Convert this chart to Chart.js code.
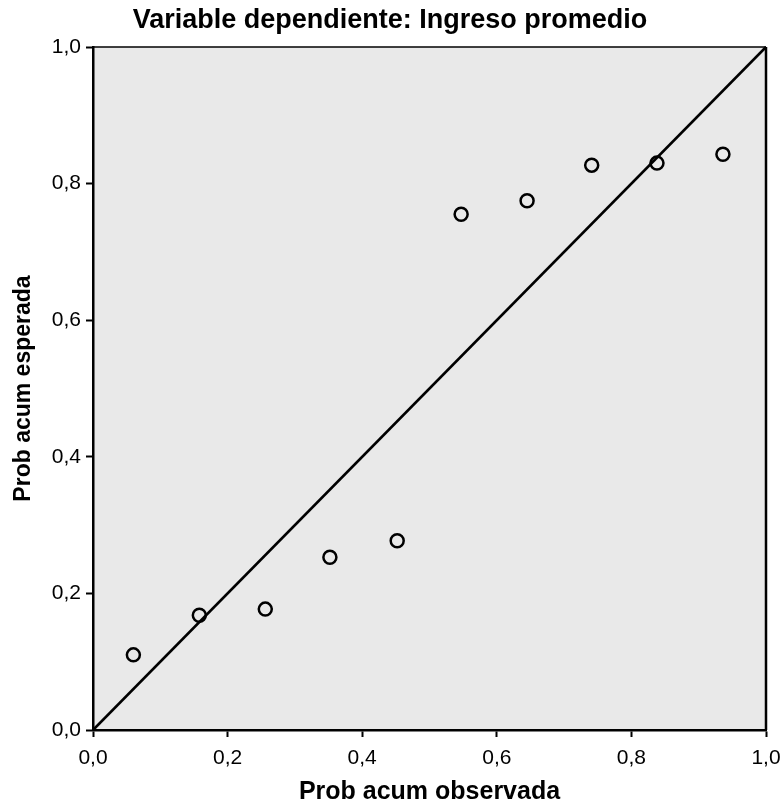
<!DOCTYPE html>
<html>
<head>
<meta charset="utf-8">
<script src="https://cdn.jsdelivr.net/npm/chart.js@4"></script>
<style>
    html, body { margin: 0; padding: 0; background: #fff; }
    #wrap { width: 780px; height: 810px; }
</style>
</head>
<body>
<div id="wrap"><canvas id="pp" width="780" height="810"></canvas></div>
<script>
/* ── Data ─────────────────────────────────────────────────────── */

const OBSERVED = [0.06, 0.158, 0.256, 0.352, 0.452, 0.547, 0.645, 0.741, 0.838, 0.936];
const EXPECTED = [0.110, 0.168, 0.177, 0.253, 0.277, 0.755, 0.775, 0.827, 0.830, 0.843];
const REF_LINE = [0, 1];
const TICKS = [0, 0.2, 0.4, 0.6, 0.8, 1.0];

const TITLE = 'Variable dependiente: Ingreso promedio';
const X_TITLE = 'Prob acum observada';
const Y_TITLE = 'Prob acum esperada';

/* ── Helpers ──────────────────────────────────────────────────── */

const FONT = "'Liberation Sans', Arial, sans-serif";
const fmt = v => v.toFixed(1).replace('.', ',');

// plot background + closing frame (top/right edges)
const frame = {
    id: 'frame',
    beforeDraw(chart) {
        const { ctx, chartArea: a } = chart;
        ctx.save();
        ctx.fillStyle = '#e9e9e9';
        ctx.fillRect(a.left, a.top, a.right - a.left, a.bottom - a.top);
        ctx.restore();
    },
    afterDraw(chart) {
        const { ctx, chartArea: a } = chart;
        ctx.save();
        ctx.strokeStyle = '#000';
        ctx.lineWidth = 1.5;
        ctx.beginPath();
        ctx.moveTo(a.left, a.top); ctx.lineTo(a.right, a.top);
        ctx.stroke();
        ctx.lineWidth = 2.5;
        ctx.beginPath();
        ctx.moveTo(a.right, a.top); ctx.lineTo(a.right, a.bottom);
        ctx.stroke();
        ctx.restore();
    }
};

const axis = (title, titleSize, fit, tickPad, titlePad) => ({
    type: 'linear', min: 0, max: 1,
    afterFit: fit,
    afterBuildTicks: s => { s.ticks = TICKS.map(v => ({ value: v })); },
    border: { color: '#000', width: 2.5 },
    grid: { display: true, drawOnChartArea: false, drawTicks: true, tickLength: 7, tickWidth: 2, color: '#000' },
    ticks: { color: '#000', padding: tickPad, font: { family: FONT, size: 21 }, callback: fmt },
    title: { display: true, text: title, color: '#000', padding: titlePad,
             font: { family: FONT, size: titleSize, weight: 'bold' } },
});

/* ── Chart ────────────────────────────────────────────────────── */

new Chart(document.getElementById('pp'), {
    type: 'scatter',
    data: {
        datasets: [
            {
                data: OBSERVED.map((x, i) => ({ x, y: EXPECTED[i] })),
                pointStyle: 'circle',
                pointRadius: 6.5,
                pointBorderWidth: 2.5,
                pointBorderColor: '#000',
                pointBackgroundColor: 'rgba(0,0,0,0)',
                showLine: false,
            },
            {
                data: REF_LINE.map(v => ({ x: v, y: v })),
                showLine: true,
                borderColor: '#000',
                borderWidth: 2.5,
                pointRadius: 0,
                clip: false,
            },
        ]
    },
    options: {
        responsive: false,
        animation: false,
        layout: { padding: { left: 0, right: 0, top: 0, bottom: 0 } },
        scales: {
            x: axis(X_TITLE, 25, s => { s.height = 80; s.paddingRight = 14; }, 9, { top: 10, bottom: 3 }),
            y: axis(Y_TITLE, 23, s => { s.width = 93; }, 5, { top: 10, bottom: 16 }),
        },
        plugins: {
            legend: { display: false },
            tooltip: { enabled: false },
            title: {
                display: true, text: TITLE, color: '#000',
                font: { family: FONT, size: 27, weight: 'bold' },
                padding: { top: 4, bottom: 10.6 },
            },
        }
    },
    plugins: [frame]
});
</script>
</body>
</html>
